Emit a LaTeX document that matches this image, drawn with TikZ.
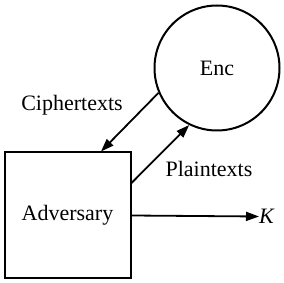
\documentclass[tikz,border=0pt]{standalone}
\usepackage{fontspec}
\setmainfont{Liberation Serif}
\usetikzlibrary{arrows.meta}
\begin{document}
\begin{tikzpicture}[x=1pt,y=-1pt,
  every node/.style={font=\fontsize{22}{26}\selectfont},
  box/.style={draw,line width=2pt,minimum width=126pt,minimum height=126pt,inner sep=0pt},
  ball/.style={draw,circle,line width=2pt,minimum size=125pt,inner sep=0pt},
  lab/.style={inner sep=0pt},
  conn/.style={line width=1.8pt,-{Triangle[length=13pt,width=9pt]}}]
\useasboundingbox (0,0) rectangle (284,283);
\node[box] (adv) at (67.5,215.5) {Adversary};
\node[ball] (enc) at (217,68) {Enc};
\node[lab,anchor=west] (k) at (259,216.5) {\textit{K}};
\node[lab] (ct) at (72,105) {Ciphertexts};
\node[lab] (pt) at (209,169) {Plaintexts};
\draw[conn] (enc.203.7) -- ([xshift=33.5pt]adv.north);
\draw[conn] ([yshift=32.5pt]adv.east) -- (enc.244.6);
\draw[conn] (adv.east) -- (k.west);
\end{tikzpicture}
\end{document}
